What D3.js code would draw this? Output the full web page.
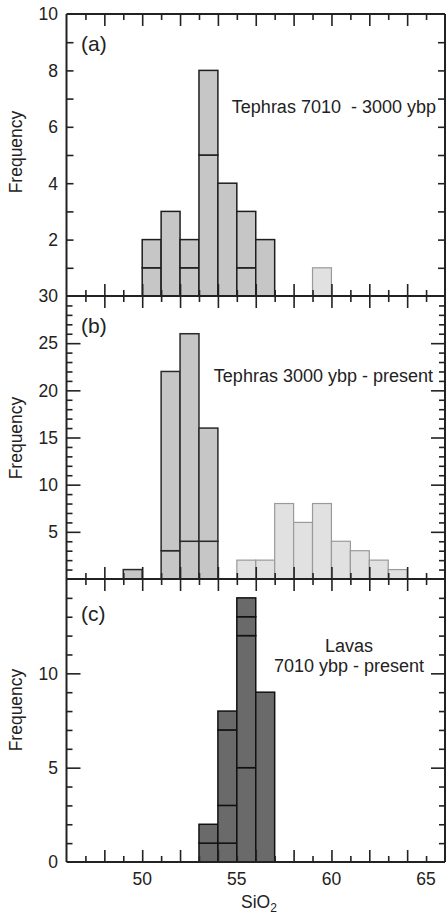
<!DOCTYPE html>
<html>
<head>
<meta charset="utf-8">
<script src="https://cdn.jsdelivr.net/npm/d3@7"></script>
<style>
  html, body { margin: 0; padding: 0; background: #fff; }
  svg { display: block; }
  text { font-family: "Liberation Sans", Arial, Helvetica, sans-serif; fill: #222; }
</style>
</head>
<body>
<svg id="chart" width="446" height="917"></svg>
<script>
// ---------- DATA ----------
// x: SiO2 bins (bin start, width 1 wt%)
const xDomain = [46, 66];
const xTickLabels = [50, 55, 60, 65];

// Panel (a) Tephras 7010 - 3000 ybp : stacked segment counts per bin
const aMidBins = [50, 51, 52, 53, 54, 55, 56];
const aMidSegments = [[1, 1], [3], [1, 1], [5, 3], [4], [1, 2], [2]];
const aLightBins = [59];
const aLightCounts = [1];
const aYTickLabels = [2, 4, 6, 8, 10];

// Panel (b) Tephras 3000 ybp - present
const bMidBins = [49, 51, 52, 53];
const bMidSegments = [[1], [3, 19], [4, 22], [4, 12]];
const bLightBins = [55, 56, 57, 58, 59, 60, 61, 62, 63];
const bLightCounts = [2, 2, 8, 6, 8, 4, 3, 2, 1];
const bYTickLabels = [5, 10, 15, 20, 25, 30];

// Panel (c) Lavas 7010 ybp - present
const cDarkBins = [53, 54, 55, 56];
const cDarkSegments = [[1, 1], [1, 2, 4, 1], [5, 7, 1, 1], [9]];
const cYTickLabels = [0, 5, 10];

const panelLabels = ["(a)", "(b)", "(c)"];
const aTitle = ["Tephras 7010  - 3000 ybp"];
const bTitle = ["Tephras 3000 ybp - present"];
const cTitle = ["Lavas", "7010 ybp - present"];
const yTitle = "Frequency";

// ---------- LAYOUT ----------
const svg = d3.select("#chart");
const left = 66.5, right = 445;
const x = d3.scaleLinear().domain(xDomain).range([left, right]);

const panels = [
  { top: 14,  bottom: 296, max: 10, labels: aYTickLabels, minorStep: 1, majorLen: 7, minorLen: 7 },
  { top: 296, bottom: 579, max: 30, labels: bYTickLabels, minorStep: 1, majorLen: 14, minorLen: 6 },
  { top: 579, bottom: 862, max: 15, labels: cYTickLabels, minorStep: 1, majorLen: 14, minorLen: 6 }
];
panels.forEach(p => {
  p.y = d3.scaleLinear().domain([0, p.max]).range([p.bottom, p.top]);
});

const colMid = "#c6c6c6", colLight = "#e1e1e1", colDark = "#6a6a6a";
const strokeDark = "#1e1e1e", strokeLight = "#9a9a9a";

function drawStacked(g, y, bins, segs, fill, stroke, sw) {
  const rects = [];
  bins.forEach((b, i) => {
    let acc = 0;
    segs[i].forEach(s => {
      rects.push({ x0: b, x1: b + 1, y0: acc, y1: acc + s });
      acc += s;
    });
  });
  g.selectAll(null).data(rects).join("rect")
    .attr("x", d => x(d.x0))
    .attr("width", d => x(d.x1) - x(d.x0))
    .attr("y", d => y(d.y1))
    .attr("height", d => y(d.y0) - y(d.y1))
    .attr("fill", fill)
    .attr("stroke", stroke)
    .attr("stroke-width", sw);
}

// Bars
const gA = svg.append("g");
drawStacked(gA, panels[0].y, aLightBins, aLightCounts.map(c => [c]), colLight, strokeLight, 1.2);
drawStacked(gA, panels[0].y, aMidBins, aMidSegments, colMid, strokeDark, 1.5);

const gB = svg.append("g");
drawStacked(gB, panels[1].y, bLightBins, bLightCounts.map(c => [c]), colLight, strokeLight, 1.2);
drawStacked(gB, panels[1].y, bMidBins, bMidSegments, colMid, "#2a2a2a", 1.5);

const gC = svg.append("g");
drawStacked(gC, panels[2].y, cDarkBins, cDarkSegments, colDark, "#111", 1.5);

// Y axes
const axisColor = "#222";
panels.forEach((p, i) => {
  const g = svg.append("g");
  const all = d3.range(0, p.max + 0.001, p.minorStep);
  const major = p.labels;
  const minor = all.filter(v => !major.includes(v) && v > 0 && v < p.max);
  g.append("g").attr("transform", `translate(${left},0)`)
    .call(d3.axisLeft(p.y).tickValues(major.filter(v => v > 0 && v < p.max)).tickSize(-p.majorLen).tickFormat(""))
    .call(a => a.select(".domain").remove());
  g.append("g").attr("transform", `translate(${left},0)`)
    .call(d3.axisLeft(p.y).tickValues(minor).tickSize(-p.minorLen).tickFormat(""))
    .call(a => a.select(".domain").remove());
  g.append("g").attr("transform", `translate(${right},0)`)
    .call(d3.axisRight(p.y).tickValues(major.filter(v => v > 0 && v < p.max)).tickSize(-p.majorLen).tickFormat(""))
    .call(a => a.select(".domain").remove());
  g.append("g").attr("transform", `translate(${right},0)`)
    .call(d3.axisRight(p.y).tickValues(minor).tickSize(-p.minorLen).tickFormat(""))
    .call(a => a.select(".domain").remove());
  g.selectAll("line").attr("stroke", axisColor).attr("stroke-width", 1.6);
  g.selectAll(null).data(major).join("text")
    .attr("x", 58).attr("y", d => p.y(d)).attr("dy", "0.36em")
    .attr("text-anchor", "end").attr("font-size", 17.5)
    .text(d => d);
});

// X ticks (every integer; even long, odd short)
const xInts = d3.range(47, 66);
const xEven = xInts.filter(v => v % 2 === 0), xOdd = xInts.filter(v => v % 2 !== 0);
const xLong = 12, xShort = 6;
function xTicks(yPos, dir) {
  [[xEven, xLong], [xOdd, xShort]].forEach(([vals, len]) => {
    const axis = dir < 0 ? d3.axisTop(x) : d3.axisBottom(x);
    svg.append("g").attr("transform", `translate(0,${yPos})`)
      .call(axis.tickValues(vals).tickSize(len).tickFormat(""))
      .call(a => a.select(".domain").remove())
      .selectAll("line").attr("stroke", axisColor).attr("stroke-width", 1.6);
  });
}
xTicks(panels[0].top, 1);
xTicks(panels[0].bottom, -1);
xTicks(panels[1].top, 1);
xTicks(panels[1].bottom, -1);
xTicks(panels[2].top, 1);
xTicks(panels[2].bottom, -1);

// Frame lines
const frame = svg.append("g").attr("stroke", axisColor).attr("fill", "none");
frame.append("line").attr("x1", left).attr("x2", left).attr("y1", panels[0].top).attr("y2", panels[2].bottom).attr("stroke-width", 2);
frame.append("line").attr("x1", right).attr("x2", right).attr("y1", panels[0].top).attr("y2", panels[2].bottom).attr("stroke-width", 2);
frame.append("line").attr("x1", left).attr("x2", right).attr("y1", panels[0].top).attr("y2", panels[0].top).attr("stroke-width", 2);
[panels[0].bottom, panels[1].bottom, panels[2].bottom].forEach(yy =>
  frame.append("line").attr("x1", left).attr("x2", right).attr("y1", yy).attr("y2", yy).attr("stroke-width", 2.2));

// X tick labels
svg.selectAll(null).data(xTickLabels).join("text")
  .attr("x", d => x(d)).attr("y", 885)
  .attr("text-anchor", "middle").attr("font-size", 17.5)
  .text(d => d);

// X axis title
const xt = svg.append("text").attr("x", 259).attr("y", 908).attr("text-anchor", "middle").attr("font-size", 17.5);
xt.append("tspan").text("SiO");
xt.append("tspan").attr("font-size", 12).attr("dy", 3.5).text("2");

// Y titles
panels.forEach((p, i) => {
  const cy = [152, 438, 710][i];
  svg.append("text")
    .attr("transform", `translate(22,${cy}) rotate(-90)`)
    .attr("text-anchor", "middle").attr("font-size", 17.5)
    .text(yTitle);
});

// Panel letters
[51, 333, 621].forEach((yy, i) => {
  svg.append("text").attr("x", 81).attr("y", yy).attr("font-size", 21).text(panelLabels[i]);
});

// Panel titles
svg.append("text").attr("x", 436).attr("y", 113).attr("text-anchor", "end")
  .attr("font-size", 18).attr("xml:space", "preserve").style("white-space", "pre").text(aTitle[0]);
svg.append("text").attr("x", 433).attr("y", 382).attr("text-anchor", "end")
  .attr("font-size", 18).text(bTitle[0]);
svg.selectAll(null).data(cTitle).join("text")
  .attr("x", 349).attr("y", (d, i) => [652, 672][i]).attr("text-anchor", "middle")
  .attr("font-size", 18).text(d => d);
</script>
</body>
</html>
